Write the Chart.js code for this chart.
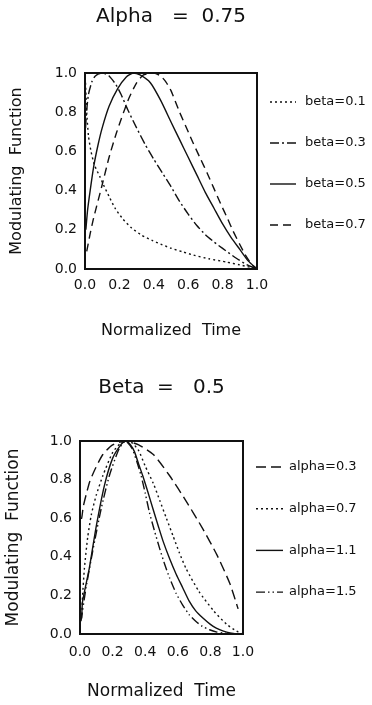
<!DOCTYPE html>
<html lang="en">
<head>
<meta charset="UTF-8">
<title>Modulating Function</title>
<script src="https://cdn.jsdelivr.net/npm/chart.js"></script>
<style>
  body { margin: 0; background: white; }
  canvas { display: block; }
</style>
</head>
<body>
<canvas id="alphaChart" width="372" height="350"></canvas>
<canvas id="betaChart" width="372" height="355"></canvas>
<script>
// ---- top panel: Alpha = 0.75, curves for several beta ----
const betaLabels = ['beta=0.1', 'beta=0.3', 'beta=0.5', 'beta=0.7'];

const beta01T = [0.003, 0.01, 0.02, 0.035, 0.055, 0.087, 0.107, 0.14, 0.175, 0.22, 0.27, 0.33, 0.39, 0.44, 0.5, 0.57, 0.63, 0.72, 0.825, 0.9, 0.96, 1.0];
const beta01Y = [0.95, 0.8, 0.68, 0.6, 0.53, 0.47, 0.43, 0.37, 0.31, 0.255, 0.21, 0.172, 0.146, 0.127, 0.106, 0.087, 0.071, 0.052, 0.035, 0.021, 0.009, 0.0];

const beta03T = [0.003, 0.01, 0.02, 0.04, 0.06, 0.1, 0.14, 0.18, 0.21, 0.25, 0.3, 0.35, 0.4, 0.45, 0.5, 0.55, 0.6, 0.65, 0.7, 0.75, 0.8, 0.88, 0.94, 1.0];
const beta03Y = [0.72, 0.81, 0.89, 0.955, 0.985, 1.0, 0.985, 0.94, 0.89, 0.81, 0.72, 0.635, 0.56, 0.49, 0.42, 0.345, 0.28, 0.222, 0.175, 0.138, 0.105, 0.055, 0.022, 0.0];

const beta05T = [0.005, 0.015, 0.03, 0.05, 0.075, 0.1, 0.14, 0.19, 0.24, 0.28, 0.32, 0.38, 0.44, 0.5, 0.55, 0.6, 0.65, 0.7, 0.75, 0.8, 0.85, 0.9, 0.95, 1.0];
const beta05Y = [0.2, 0.3, 0.4, 0.52, 0.63, 0.72, 0.83, 0.92, 0.98, 1.0, 0.99, 0.95, 0.86, 0.75, 0.66, 0.57, 0.48, 0.39, 0.31, 0.23, 0.16, 0.1, 0.04, 0.0];

const beta07T = [0.01, 0.03, 0.05, 0.1, 0.14, 0.185, 0.25, 0.3, 0.34, 0.4, 0.44, 0.47, 0.5, 0.55, 0.6, 0.63, 0.67, 0.71, 0.75, 0.79, 0.83, 0.86, 0.9, 0.93, 0.97, 1.0];
const beta07Y = [0.09, 0.18, 0.26, 0.43, 0.57, 0.7, 0.86, 0.95, 0.99, 1.0, 0.985, 0.955, 0.91, 0.8, 0.7, 0.64, 0.565, 0.49, 0.41, 0.33, 0.255, 0.195, 0.125, 0.075, 0.022, 0.0];

// ---- bottom panel: Beta = 0.5, curves for several alpha ----
const alphaLabels = ['alpha=0.3', 'alpha=0.7', 'alpha=1.1', 'alpha=1.5'];

const alpha03T = [0.0, 0.01, 0.02, 0.037, 0.06, 0.09, 0.14, 0.2, 0.28, 0.36, 0.45, 0.55, 0.65, 0.75, 0.84, 0.92, 0.97];
const alpha03Y = [0.6, 0.6, 0.66, 0.72, 0.79, 0.85, 0.93, 0.98, 1.0, 0.98, 0.93, 0.82, 0.69, 0.55, 0.41, 0.26, 0.13];

const alpha07T = [0.01, 0.016, 0.027, 0.047, 0.07, 0.1, 0.14, 0.2, 0.25, 0.28, 0.32, 0.36, 0.4, 0.45, 0.49, 0.53, 0.57, 0.61, 0.65, 0.73, 0.82, 0.9, 0.96, 1.0];
const alpha07Y = [0.1, 0.2, 0.34, 0.5, 0.62, 0.72, 0.82, 0.94, 0.99, 1.0, 0.99, 0.95, 0.87, 0.78, 0.69, 0.6, 0.51, 0.42, 0.34, 0.22, 0.12, 0.05, 0.015, 0.0];

const alpha11T = [0.01, 0.016, 0.057, 0.098, 0.15, 0.2, 0.25, 0.28, 0.31, 0.334, 0.36, 0.385, 0.415, 0.447, 0.48, 0.51, 0.55, 0.59, 0.63, 0.67, 0.71, 0.754, 0.8, 0.836, 0.88, 0.92, 0.96];
const alpha11Y = [0.08, 0.17, 0.34, 0.55, 0.77, 0.91, 0.98, 1.0, 0.98, 0.945, 0.88, 0.82, 0.74, 0.65, 0.56, 0.48, 0.39, 0.31, 0.24, 0.17, 0.12, 0.083, 0.05, 0.031, 0.015, 0.005, 0.0];

const alpha15T = [0.006, 0.037, 0.078, 0.13, 0.18, 0.24, 0.28, 0.32, 0.35, 0.375, 0.4, 0.426, 0.455, 0.488, 0.52, 0.55, 0.59, 0.63, 0.67, 0.71, 0.75, 0.795, 0.84, 0.877, 0.94];
const alpha15Y = [0.066, 0.24, 0.43, 0.65, 0.82, 0.96, 1.0, 0.96, 0.89, 0.82, 0.73, 0.63, 0.54, 0.445, 0.36, 0.29, 0.21, 0.15, 0.1, 0.066, 0.04, 0.022, 0.01, 0.005, 0.0];

const axisTicks = [0, 0.2, 0.4, 0.6, 0.8, 1.0];

const INK = '#111';
Chart.defaults.font.family = "'DejaVu Sans', sans-serif";
Chart.defaults.color = INK;

function pts(ts, ys) {
    return ts.map((t, i) => ({ x: t, y: ys[i] }));
}

function series(label, ts, ys, dash) {
    return {
        label: label,
        data: pts(ts, ys),
        borderColor: INK,
        borderWidth: 1.4,
        borderDash: dash,
        pointRadius: 0,
        fill: false,
        tension: 0.2
    };
}

// box round the plot area
const framePlugin = {
    id: 'frame',
    afterDatasetsDraw(chart) {
        const a = chart.chartArea;
        const ctx = chart.ctx;
        ctx.save();
        ctx.strokeStyle = INK;
        ctx.lineWidth = 2;
        ctx.strokeRect(a.left, a.top, a.right - a.left, a.bottom - a.top);
        ctx.restore();
    }
};

// legend to the right of the box: line sample + label
const sideLegend = {
    id: 'sideLegend',
    afterDraw(chart, args, opts) {
        const a = chart.chartArea;
        const ctx = chart.ctx;
        ctx.save();
        chart.data.datasets.forEach((ds, i) => {
            const y = a.top + opts.offset + i * opts.step;
            const x0 = a.right + opts.gap;
            ctx.strokeStyle = INK;
            ctx.lineWidth = 1.4;
            ctx.setLineDash(ds.borderDash || []);
            ctx.beginPath();
            ctx.moveTo(x0, y);
            ctx.lineTo(x0 + opts.len, y);
            ctx.stroke();
            ctx.setLineDash([]);
            ctx.fillStyle = INK;
            ctx.font = opts.fontSize + "px 'DejaVu Sans', sans-serif";
            ctx.textBaseline = 'middle';
            ctx.fillText(ds.label, x0 + opts.len + opts.textGap, y);
        });
        ctx.restore();
    }
};

function makeChart(id, p) {
    return new Chart(document.getElementById(id), {
        type: 'line',
        data: { datasets: p.datasets },
        plugins: [framePlugin, sideLegend],
        options: {
            responsive: false,
            animation: false,
            layout: { padding: { right: p.padRight } },
            plugins: {
                legend: { display: false },
                tooltip: { enabled: false },
                title: {
                    display: true,
                    text: p.title,
                    fullSize: false,
                    color: INK,
                    font: { size: 20, weight: 'normal' },
                    padding: { top: p.titleTop, bottom: p.titleBottom }
                },
                sideLegend: { offset: p.legOffset, step: p.legStep, gap: 13, len: p.legLen, textGap: p.legTextGap, fontSize: 13 }
            },
            scales: {
                x: {
                    type: 'linear', min: 0, max: 1,
                    grid: { display: false, drawTicks: false },
                    border: { display: false },
                    afterBuildTicks: s => { s.ticks = axisTicks.map(v => ({ value: v })); },
                    ticks: { padding: p.xTickPad, font: { size: 14 }, maxRotation: 0, autoSkip: false, callback: v => v.toFixed(1) },
                    title: { display: true, text: 'Normalized  Time', font: { size: p.axisFont }, padding: { top: 0, bottom: p.xTitleBottom } },
                    afterFit: s => { s.height = p.xHeight; }
                },
                y: {
                    min: 0, max: 1,
                    grid: { display: false, drawTicks: false },
                    border: { display: false },
                    afterBuildTicks: s => { s.ticks = axisTicks.map(v => ({ value: v })); },
                    ticks: { padding: 8, font: { size: 14 }, callback: v => v.toFixed(1) },
                    title: { display: true, text: 'Modulating  Function', font: { size: p.axisFont }, padding: { top: p.yTitleTop, bottom: 0 } },
                    afterFit: s => { s.width = p.yWidth; }
                }
            }
        }
    });
}

makeChart('alphaChart', {
    title: 'Alpha   =  0.75',
    datasets: [
        series(betaLabels[0], beta01T, beta01Y, [2, 3]),
        series(betaLabels[1], beta03T, beta03Y, [9, 3, 2, 3]),
        series(betaLabels[2], beta05T, beta05Y, []),
        series(betaLabels[3], beta07T, beta07Y, [8, 5])
    ],
    padRight: 115, titleTop: 5, titleBottom: 44,
    xTickPad: 8, xTitleBottom: 10, xHeight: 81, axisFont: 16,
    yTitleTop: 7, yWidth: 85,
    legOffset: 29, legStep: 41, legLen: 26, legTextGap: 9
});

makeChart('betaChart', {
    title: 'Beta  =   0.5',
    datasets: [
        series(alphaLabels[0], alpha03T, alpha03Y, [10, 5]),
        series(alphaLabels[1], alpha07T, alpha07Y, [2, 3]),
        series(alphaLabels[2], alpha11T, alpha11Y, []),
        series(alphaLabels[3], alpha15T, alpha15Y, [9, 3, 1.5, 3, 1.5, 3])
    ],
    padRight: 129, titleTop: 26, titleBottom: 41,
    xTickPad: 10, xTitleBottom: 3, xHeight: 71, axisFont: 17,
    yTitleTop: 3, yWidth: 80,
    legOffset: 26, legStep: 41.7, legLen: 27, legTextGap: 6
});
</script>
</body>
</html>
